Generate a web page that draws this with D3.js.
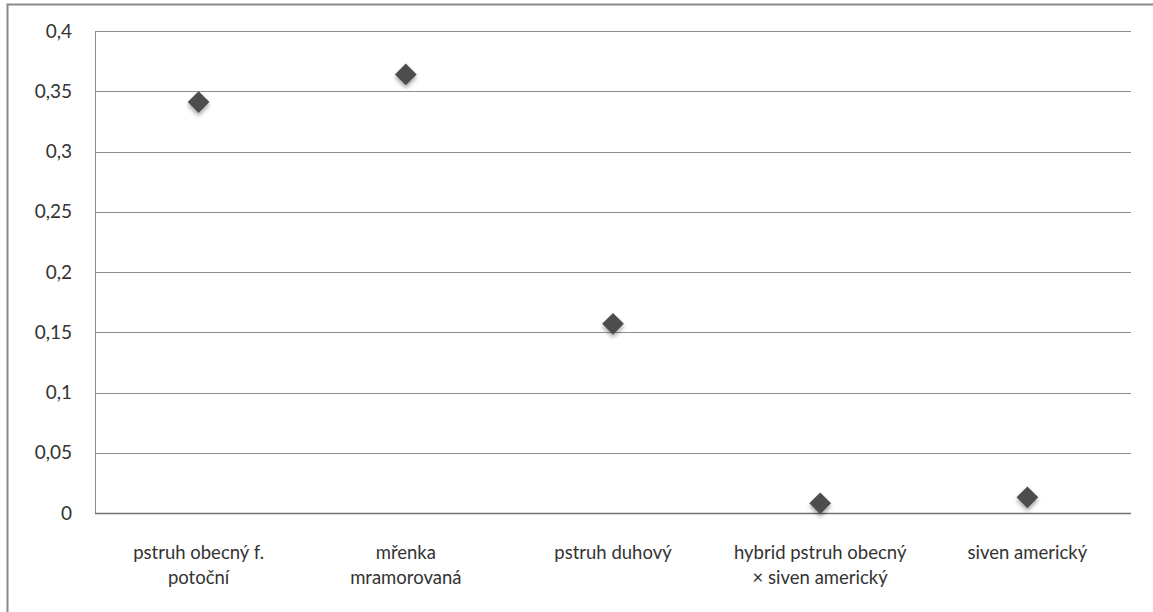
<!DOCTYPE html>
<html>
<head>
<meta charset="utf-8">
<script src="https://cdn.jsdelivr.net/npm/d3@7"></script>
<style>
  html, body { margin: 0; padding: 0; background: #fff; }
  svg { display: block; }
  text { font-family: "Lato", "Open Sans", sans-serif; fill: #333; }
</style>
</head>
<body>
<svg id="chart" width="1153" height="612"></svg>
<script>
// Species (category axis) – each entry may wrap onto two lines
const categories = [
  ["pstruh obecný f.", "potoční"],
  ["mřenka", "mramorovaná"],
  ["pstruh duhový"],
  ["hybrid pstruh obecný", "× siven americký"],
  ["siven americký"]
];
const values = [0.341, 0.364, 0.157, 0.008, 0.013];
const yTicks = [0, 0.05, 0.1, 0.15, 0.2, 0.25, 0.3, 0.35, 0.4];
const yTickLabels = ["0", "0,05", "0,1", "0,15", "0,2", "0,25", "0,3", "0,35", "0,4"];

const svg = d3.select("#chart");
const margin = { left: 95, right: 22, top: 31, bottom: 99 };
const W = 1153, H = 612;
const innerW = W - margin.left - margin.right;
const innerH = H - margin.top - margin.bottom;
const labelFont = "Lato, 'Open Sans', sans-serif";

// outer frame
svg.append("rect")
  .attr("x", 7.5).attr("y", 4.5)
  .attr("width", 1160).attr("height", 620)
  .attr("fill", "none").attr("stroke", "#8a8a8a").attr("stroke-width", 2);

const defs = svg.append("defs");
const f = defs.append("filter").attr("id", "shadow")
  .attr("x", "-50%").attr("y", "-50%").attr("width", "200%").attr("height", "220%");
f.append("feGaussianBlur").attr("in", "SourceAlpha").attr("stdDeviation", 2.2).attr("result", "b");
f.append("feOffset").attr("in", "b").attr("dx", 0).attr("dy", 3).attr("result", "o");
f.append("feComponentTransfer").attr("in", "o").attr("result", "s")
  .append("feFuncA").attr("type", "linear").attr("slope", 0.35);
const m = f.append("feMerge");
m.append("feMergeNode").attr("in", "s");
m.append("feMergeNode").attr("in", "SourceGraphic");

const g = svg.append("g").attr("transform", `translate(${margin.left},${margin.top})`);

const x = d3.scaleBand()
  .domain(categories.map((d, i) => i))
  .range([0, innerW]);
const y = d3.scaleLinear().domain([0, 0.4]).range([innerH, 0]);

// horizontal gridlines
g.append("g").selectAll("line")
  .data(yTicks.filter(t => t > 0))
  .join("line")
  .attr("x1", 0).attr("x2", innerW)
  .attr("y1", d => Math.round(y(d)) + 0.5).attr("y2", d => Math.round(y(d)) + 0.5)
  .attr("stroke", "#8c8c8c").attr("stroke-width", 1);

// value axis
const yAxis = g.append("g")
  .call(d3.axisLeft(y).tickValues(yTicks)
    .tickFormat((d, i) => yTickLabels[i]).tickSize(0).tickPadding(23));
yAxis.select(".domain").attr("stroke", "#8c8c8c").attr("d", `M0.5,0V${innerH}`);
yAxis.selectAll("text").attr("font-size", 19).attr("fill", "#333")
  .style("font-family", labelFont);

// category axis
const xAxis = g.append("g").attr("transform", `translate(0,${innerH})`)
  .call(d3.axisBottom(x).tickSize(0).tickFormat(""));
xAxis.select(".domain").attr("stroke", "#707070").attr("stroke-width", 1.5)
  .attr("d", `M0,0.5H${innerW}`);
xAxis.selectAll(".tick").each(function (d) {
  const t = d3.select(this).select("text")
    .attr("font-size", 18.5).attr("fill", "#333").attr("y", 0).attr("dy", null)
    .style("font-family", labelFont);
  categories[d].forEach((line, k) => {
    t.append("tspan").attr("x", 0).attr("y", 46 + k * 25).text(line);
  });
});

// diamond markers
const diamond = d3.symbol().type(d3.symbolDiamond2).size(300);
g.append("g").selectAll("path")
  .data(values)
  .join("path")
  .attr("d", diamond)
  .attr("transform", (d, i) => `translate(${x(i) + x.bandwidth() / 2},${y(d)})`)
  .attr("fill", "#4d4d4d")
  .attr("filter", "url(#shadow)");
</script>
</body>
</html>
